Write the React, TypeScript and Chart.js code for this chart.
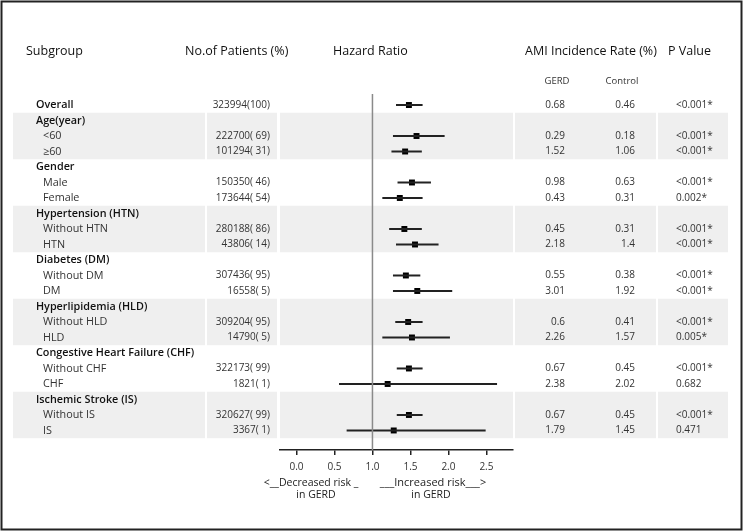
import React, { useEffect, useRef } from "react";
import { Chart, registerables } from "chart.js";

Chart.register(...registerables);

const labels = [
  "Overall", "Age(year)", "<60", "≥60", "Gender", "Male", "Female",
  "Hypertension (HTN)", "Without HTN", "HTN", "Diabetes (DM)", "Without DM", "DM",
  "Hyperlipidemia (HLD)", "Without HLD", "HLD", "Congestive Heart Failure (CHF)",
  "Without CHF", "CHF", "Ischemic Stroke (IS)", "Without IS", "IS",
];
const isHeader = [
  true, true, false, false, true, false, false, true, false, false, true, false, false,
  true, false, false, true, false, false, true, false, false,
];
const patients = [
  "323994(100)", "", "222700( 69)", "101294( 31)", "", "150350( 46)", "173644( 54)",
  "", "280188( 86)", "43806( 14)", "", "307436( 95)", "16558( 5)", "", "309204( 95)",
  "14790( 5)", "", "322173( 99)", "1821( 1)", "", "320627( 99)", "3367( 1)",
];
const hr = [1.48, null, 1.58, 1.43, null, 1.52, 1.36, null, 1.42, 1.56, null, 1.44, 1.59, null, 1.47, 1.52, null, 1.48, 1.2, null, 1.48, 1.28];
const lower = [1.31, null, 1.27, 1.25, null, 1.33, 1.13, null, 1.22, 1.31, null, 1.27, 1.27, null, 1.3, 1.13, null, 1.32, 0.56, null, 1.32, 0.66];
const upper = [1.66, null, 1.95, 1.65, null, 1.77, 1.66, null, 1.65, 1.87, null, 1.63, 2.05, null, 1.66, 2.02, null, 1.66, 2.64, null, 1.66, 2.49];
const gerd = ["0.68", "", "0.29", "1.52", "", "0.98", "0.43", "", "0.45", "2.18", "", "0.55", "3.01", "", "0.6", "2.26", "", "0.67", "2.38", "", "0.67", "1.79"];
const control = ["0.46", "", "0.18", "1.06", "", "0.63", "0.31", "", "0.31", "1.4", "", "0.38", "1.92", "", "0.41", "1.57", "", "0.45", "2.02", "", "0.45", "1.45"];
const pvals = ["<0.001*", "", "<0.001*", "<0.001*", "", "<0.001*", "0.002*", "", "<0.001*", "<0.001*", "", "<0.001*", "<0.001*", "", "<0.001*", "0.005*", "", "<0.001*", "0.682", "", "<0.001*", "0.471"];
const shadedGroups = [[1, 3], [7, 9], [13, 15], [19, 21]];
const xTicks = [0, 0.5, 1, 1.5, 2, 2.5];
const headers = ["Subgroup", "No.of Patients (%)", "Hazard Ratio", "AMI Incidence Rate (%)", "P Value"];
const subHeaders = ["GERD", "Control"];
const refValue = 1;

const FONT = "'Open Sans', 'Noto Sans', sans-serif";
const Y_MIN = -0.71;
const Y_MAX = 22.26;

export default function App() {
  const ref = useRef<HTMLCanvasElement>(null);

  useEffect(() => {
    document.body.style.margin = "0";
    const canvas = ref.current!;
    const ciSets = hr
      .map((h, i) => (h == null ? null : {
        type: "line" as const,
        data: [{ x: lower[i] as number, y: i }, { x: upper[i] as number, y: i }],
        borderColor: "#222",
        borderWidth: 2,
        pointRadius: 0,
        showLine: true,
      }))
      .filter(Boolean) as any[];

    const pointData = hr
      .map((h, i) => (h == null ? null : { x: h, y: i }))
      .filter(Boolean) as any[];

    const bgPlugin = {
      id: "bands",
      beforeDraw(chart: any) {
        const ctx = chart.ctx;
        const ys = chart.scales.y;
        ctx.save();
        ctx.fillStyle = "#fff";
        ctx.fillRect(0, 0, chart.width, chart.height);
        ctx.fillStyle = "#efefef";
        const cols = [[13, 205], [207, 277], [280, 513], [515, 656], [658, 728]];
        for (const [a, b] of shadedGroups) {
          const top = ys.getPixelForValue(a - 0.5);
          const bot = ys.getPixelForValue(b + 0.5);
          for (const [l, r] of cols) ctx.fillRect(l, top, r - l, bot - top);
        }
        ctx.restore();
      },
      afterDraw(chart: any) {
        const ctx = chart.ctx;
        const ys = chart.scales.y;
        ctx.save();
        ctx.fillStyle = "#111";
        ctx.textBaseline = "middle";
        // headers
        ctx.font = `12.5px ${FONT}`;
        ctx.textAlign = "left";
        ctx.fillText(headers[0], 26, 51);
        ctx.fillText(headers[1], 185, 51);
        ctx.fillText(headers[2], 333, 51);
        ctx.fillText(headers[3], 525, 51);
        ctx.fillText(headers[4], 668, 51);
        ctx.font = `9.5px ${FONT}`;
        ctx.fillStyle = "#333";
        ctx.textAlign = "center";
        ctx.fillText(subHeaders[0], 557, 81);
        ctx.fillText(subHeaders[1], 622, 81);
        // rows
        labels.forEach((lab, i) => {
          const y = ys.getPixelForValue(i);
          ctx.textAlign = "left";
          if (isHeader[i]) {
            ctx.font = `600 10.8px ${FONT}`;
            ctx.fillStyle = "#111";
            ctx.fillText(lab, 36, y);
          } else {
            ctx.font = `10.8px ${FONT}`;
            ctx.fillStyle = "#333";
            ctx.fillText(lab, 43, y);
          }
          ctx.font = `10px ${FONT}`;
          ctx.fillStyle = "#333";
          ctx.textAlign = "right";
          if (patients[i]) ctx.fillText(patients[i], 270, y);
          if (gerd[i]) ctx.fillText(gerd[i], 565, y);
          if (control[i]) ctx.fillText(control[i], 635, y);
          ctx.textAlign = "left";
          if (pvals[i]) ctx.fillText(pvals[i], 676, y);
        });
        // bottom labels
        ctx.font = `500 10.5px ${FONT}`;
        ctx.fillStyle = "#222";
        ctx.textAlign = "center";
        ctx.fillText("<__Decreased risk _", 311, 483);
        ctx.fillText("in GERD", 316, 495);
        ctx.font = `500 11px ${FONT}`;
        ctx.fillText("___Increased risk___>", 433, 483);
        ctx.font = `500 10.5px ${FONT}`;
        ctx.fillText("in GERD", 431, 495);
        // frame
        ctx.strokeStyle = "#222";
        ctx.lineWidth = 2;
        ctx.strokeRect(1.5, 1.5, 740, 528);
        ctx.restore();
      },
    };

    const chart = new Chart(canvas, {
      type: "scatter",
      data: {
        datasets: [
          {
            type: "line",
            data: [{ x: refValue, y: Y_MIN }, { x: refValue, y: Y_MAX }],
            borderColor: "#8a8a8a",
            borderWidth: 1.5,
            pointRadius: 0,
            showLine: true,
          } as any,
          ...ciSets,
          {
            type: "scatter",
            data: pointData,
            pointStyle: "rect",
            pointRadius: 4.2,
            backgroundColor: "#000",
            borderColor: "#000",
            borderWidth: 0,
          } as any,
        ],
      },
      options: {
        responsive: false,
        animation: false,
        devicePixelRatio: 1,
        layout: { padding: { left: 280, right: 232, top: 94, bottom: 0 } },
        plugins: { legend: { display: false }, tooltip: { enabled: false } },
        scales: {
          x: {
            type: "linear",
            min: -0.217,
            max: 2.85,
            position: "bottom",
            grid: { drawOnChartArea: false, drawTicks: true, tickLength: 5, color: "#222", lineWidth: 1.5 },
            border: { display: true, color: "#222", width: 1.5 },
            ticks: {
              padding: 6,
              color: "#333",
              font: { family: FONT, size: 10 },
              callback: (v: any) => Number(v).toFixed(1),
            },
            afterBuildTicks: (s: any) => {
              s.ticks = xTicks.map((v) => ({ value: v }));
            },
            afterFit: (s: any) => {
              s.height = 82;
            },
          },
          y: {
            type: "linear",
            reverse: true,
            min: Y_MIN,
            max: Y_MAX,
            display: false,
          },
        },
      },
      plugins: [bgPlugin],
    });
    return () => chart.destroy();
  }, []);

  return <canvas ref={ref} width={745} height={532} style={{ display: "block" }} />;
}
